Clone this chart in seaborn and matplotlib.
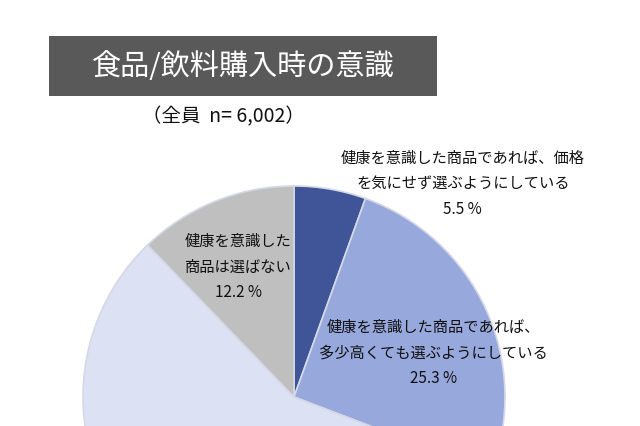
import matplotlib
matplotlib.use("Agg")
import matplotlib.pyplot as plt
import seaborn as sns

# slice data, clockwise from 12 o'clock
labels = [
    "健康を意識した商品であれば、価格\nを気にせず選ぶようにしている\n5.5 %",
    "健康を意識した商品であれば、\n多少高くても選ぶようにしている\n25.3 %",
    "",
    "健康を意識した\n商品は選ばない\n12.2 %",
]
shares = [5.5, 25.3, 57.0, 12.2]
colors = ["#3F5597", "#97A8DC", "#DCE1F3", "#BFBFBF"]
label_pos = [(0.80, 1.01), (0.66, 0.21), None, (-0.265, 0.615)]

title = "食品/飲料購入時の意識"
subtitle = "（全員  n= 6,002）"

sns.set_style("white")
plt.rcParams['font.family'] = ['Noto Sans CJK JP', 'DejaVu Sans']

fig = plt.figure(figsize=(6.4, 4.26), dpi=100)
ax = fig.add_axes([0, 0, 1, 1])

wedges, _ = ax.pie(shares, colors=colors, startangle=90, counterclock=False,
                   radius=1.0, center=(0, 0),
                   wedgeprops=dict(edgecolor="#D5D9E6", linewidth=1.2))

for lab, pos in zip(labels, label_pos):
    if pos is None:
        continue
    ax.text(pos[0], pos[1], lab, ha="center", va="center", fontsize=11,
            linespacing=1.65, color="#111111")

# pixel-based frame: centre at (294, 397) px, radius 211 px
ax.set_xlim(-294 / 211, (640 - 294) / 211)
ax.set_ylim(-(426 - 397) / 211, 397 / 211)
ax.set_aspect("auto")
ax.axis("off")

# title banner
fig.patches.append(plt.Rectangle((49 / 640, 1 - 96 / 426), (437 - 49) / 640, 60 / 426,
                                 transform=fig.transFigure, facecolor="#595959",
                                 edgecolor="none", zorder=0))
fig.text(243 / 640, 1 - 67 / 426, title, ha="center", va="center",
         fontsize=21, color="white")
fig.text(223 / 640, 1 - 117 / 426, subtitle, ha="center", va="center",
         fontsize=14, color="#111111")

fig.savefig("out.png", dpi=100)
